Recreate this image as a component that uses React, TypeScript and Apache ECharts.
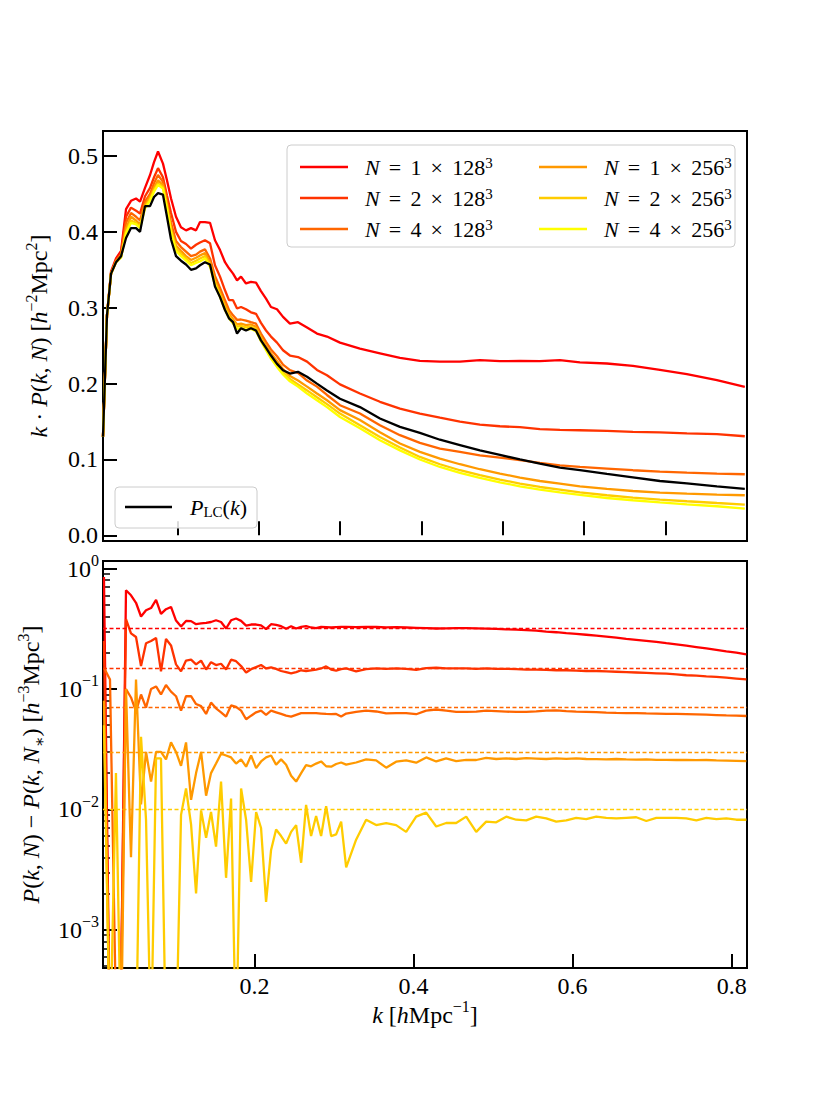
import React, { useEffect, useRef } from "react";
import * as echarts from "echarts";

const FONT = "'Liberation Serif', 'DejaVu Serif', serif";

// ---------- top panel: k * P(k, N) ----------
const kTop = [0.0087, 0.0136, 0.0186, 0.0247, 0.0309, 0.037, 0.0431, 0.0493, 0.0542, 0.0603, 0.0665, 0.0714, 0.0763, 0.0824, 0.0873, 0.0923, 0.0984, 0.1045, 0.1107, 0.1168, 0.123, 0.1279, 0.134, 0.1402, 0.1463, 0.1525, 0.1586, 0.1635, 0.1685, 0.1734, 0.1783, 0.1844, 0.1905, 0.1967, 0.2028, 0.209, 0.2151, 0.2225, 0.2299, 0.2384, 0.2483, 0.2594, 0.2716, 0.2839, 0.2999, 0.3244, 0.349, 0.3736, 0.3981, 0.4227, 0.4473, 0.4718, 0.4964, 0.521, 0.5455, 0.5701, 0.5947, 0.6278, 0.6598, 0.693, 0.7261, 0.763, 0.7973];

const pLC = [0.13, 0.29, 0.345, 0.36, 0.368, 0.392, 0.405, 0.405, 0.40, 0.434, 0.434, 0.446, 0.451, 0.449, 0.42, 0.39, 0.368, 0.362, 0.357, 0.350, 0.352, 0.356, 0.360, 0.357, 0.328, 0.314, 0.297, 0.286, 0.281, 0.266, 0.273, 0.270, 0.273, 0.270, 0.257, 0.247, 0.237, 0.226, 0.2177, 0.2133, 0.2155, 0.209, 0.200, 0.191, 0.180, 0.169, 0.154, 0.143, 0.135, 0.126, 0.119, 0.112, 0.106, 0.100, 0.0946, 0.0893, 0.0858, 0.081, 0.0765, 0.0716, 0.0685, 0.0645, 0.0611];

const kp1x128 = [0.13, 0.29, 0.348, 0.365, 0.375, 0.43, 0.441, 0.444, 0.440, 0.458, 0.475, 0.492, 0.506, 0.490, 0.468, 0.444, 0.420, 0.406, 0.402, 0.405, 0.402, 0.413, 0.413, 0.412, 0.389, 0.376, 0.360, 0.352, 0.345, 0.336, 0.341, 0.332, 0.334, 0.333, 0.322, 0.312, 0.301, 0.298, 0.288, 0.279, 0.281, 0.274, 0.266, 0.262, 0.254, 0.246, 0.240, 0.234, 0.230, 0.229, 0.229, 0.231, 0.2295, 0.230, 0.2295, 0.231, 0.228, 0.2265, 0.2235, 0.218, 0.2124, 0.2045, 0.1957];

const kp2x128 = [0.13, 0.29, 0.346, 0.363, 0.372, 0.42, 0.432, 0.428, 0.424, 0.447, 0.458, 0.472, 0.484, 0.472, 0.448, 0.425, 0.400, 0.388, 0.384, 0.378, 0.383, 0.386, 0.389, 0.385, 0.356, 0.341, 0.323, 0.310, 0.310, 0.299, 0.301, 0.298, 0.294, 0.292, 0.280, 0.270, 0.262, 0.254, 0.244, 0.237, 0.235, 0.229, 0.218, 0.211, 0.199, 0.187, 0.176, 0.167, 0.1605, 0.155, 0.150, 0.146, 0.1438, 0.1425, 0.140, 0.139, 0.1385, 0.1376, 0.1363, 0.1358, 0.1345, 0.1335, 0.1306];

const kp4x128 = [0.13, 0.29, 0.345, 0.362, 0.370, 0.412, 0.425, 0.42, 0.415, 0.440, 0.450, 0.464, 0.475, 0.466, 0.44, 0.412, 0.388, 0.380, 0.374, 0.368, 0.370, 0.374, 0.377, 0.365, 0.342, 0.326, 0.310, 0.297, 0.290, 0.284, 0.2845, 0.283, 0.281, 0.279, 0.266, 0.255, 0.245, 0.236, 0.225, 0.2177, 0.214, 0.204, 0.196, 0.185, 0.1715, 0.1605, 0.145, 0.132, 0.1218, 0.1144, 0.1099, 0.1055, 0.1025, 0.099, 0.0954, 0.0923, 0.0901, 0.088, 0.0858, 0.084, 0.0827, 0.0814, 0.0805];

const kp1x256 = [0.13, 0.29, 0.345, 0.361, 0.368, 0.405, 0.420, 0.415, 0.410, 0.436, 0.446, 0.458, 0.468, 0.462, 0.436, 0.405, 0.382, 0.375, 0.368, 0.363, 0.366, 0.369, 0.372, 0.360, 0.336, 0.320, 0.304, 0.292, 0.285, 0.278, 0.279, 0.277, 0.278, 0.275, 0.262, 0.250, 0.240, 0.230, 0.219, 0.210, 0.204, 0.196, 0.187, 0.178, 0.165, 0.152, 0.136, 0.121, 0.110, 0.101, 0.0937, 0.0871, 0.0814, 0.0761, 0.0716, 0.0682, 0.0646, 0.0611, 0.0584, 0.0563, 0.055, 0.0537, 0.0528];

const kp2x256 = [0.13, 0.29, 0.345, 0.36, 0.367, 0.40, 0.415, 0.412, 0.407, 0.433, 0.443, 0.455, 0.464, 0.459, 0.433, 0.402, 0.378, 0.371, 0.365, 0.359, 0.362, 0.365, 0.368, 0.357, 0.333, 0.317, 0.300, 0.289, 0.282, 0.275, 0.276, 0.274, 0.275, 0.272, 0.259, 0.247, 0.236, 0.226, 0.215, 0.206, 0.199, 0.191, 0.182, 0.173, 0.1605, 0.145, 0.1297, 0.1157, 0.1033, 0.0937, 0.0858, 0.0792, 0.0735, 0.0682, 0.0637, 0.0603, 0.0567, 0.0528, 0.0497, 0.0471, 0.0449, 0.0426, 0.0405];

const kp4x256 = [0.13, 0.29, 0.345, 0.36, 0.366, 0.398, 0.412, 0.41, 0.405, 0.431, 0.441, 0.453, 0.462, 0.457, 0.431, 0.399, 0.375, 0.368, 0.362, 0.356, 0.359, 0.361, 0.365, 0.354, 0.330, 0.314, 0.297, 0.286, 0.279, 0.272, 0.273, 0.271, 0.272, 0.269, 0.256, 0.244, 0.233, 0.222, 0.212, 0.203, 0.196, 0.187, 0.178, 0.169, 0.156, 0.141, 0.1253, 0.112, 0.0999, 0.0901, 0.0822, 0.0756, 0.0699, 0.0646, 0.0603, 0.0567, 0.0532, 0.0492, 0.0462, 0.0435, 0.0409, 0.0383, 0.0352];

// ---------- bottom panel: P(k, N) - P(k, N*) ----------
const kBottom = [0.0109, 0.0185, 0.026, 0.0323, 0.0386, 0.0449, 0.0512, 0.0575, 0.0638, 0.0701, 0.0764, 0.0826, 0.0889, 0.0952, 0.1015, 0.1078, 0.1141, 0.1204, 0.1267, 0.133, 0.1393, 0.1455, 0.1518, 0.1581, 0.1644, 0.1707, 0.177, 0.1833, 0.1896, 0.1959, 0.2022, 0.2084, 0.2147, 0.221, 0.2273, 0.2336, 0.2399, 0.2462, 0.2525, 0.2588, 0.265, 0.2713, 0.2776, 0.2839, 0.2902, 0.2965, 0.3028, 0.3091, 0.3154, 0.3279, 0.3405, 0.3531, 0.3657, 0.3782, 0.3908, 0.4034, 0.416, 0.4286, 0.4411, 0.4537, 0.4663, 0.4789, 0.4914, 0.504, 0.5166, 0.5292, 0.5418, 0.5543, 0.5669, 0.5795, 0.5921, 0.6046, 0.6172, 0.6298, 0.6424, 0.655, 0.6675, 0.6801, 0.6927, 0.7053, 0.7179, 0.7304, 0.743, 0.7556, 0.7682, 0.7808, 0.7933, 0.8059, 0.8185];

const diff1x128 = [0.85, 0.0001, 0.0001, 0.0003, 0.66, 0.60, 0.52, 0.40, 0.45, 0.47, 0.55, 0.42, 0.46, 0.48, 0.37, 0.33, 0.367, 0.366, 0.345, 0.35, 0.354, 0.36, 0.372, 0.36, 0.318, 0.372, 0.385, 0.368, 0.336, 0.343, 0.343, 0.338, 0.314, 0.345, 0.34, 0.332, 0.316, 0.332, 0.318, 0.328, 0.332, 0.324, 0.32, 0.328, 0.326, 0.324, 0.326, 0.328, 0.328, 0.326, 0.328, 0.327, 0.325, 0.326, 0.324, 0.322, 0.320, 0.318, 0.319, 0.320, 0.320, 0.319, 0.317, 0.315, 0.313, 0.311, 0.308, 0.305, 0.300, 0.296, 0.291, 0.287, 0.282, 0.277, 0.272, 0.267, 0.261, 0.256, 0.251, 0.246, 0.240, 0.235, 0.229, 0.223, 0.217, 0.211, 0.205, 0.200, 0.194];

const diff2x128 = [0.25, 0.0001, 0.0001, 0.0003, 0.38, 0.29, 0.27, 0.155, 0.24, 0.25, 0.265, 0.14, 0.26, 0.23, 0.16, 0.14, 0.172, 0.175, 0.16, 0.172, 0.145, 0.167, 0.158, 0.162, 0.145, 0.175, 0.17, 0.155, 0.137, 0.146, 0.152, 0.158, 0.148, 0.151, 0.147, 0.141, 0.138, 0.135, 0.138, 0.143, 0.141, 0.143, 0.145, 0.148, 0.154, 0.145, 0.142, 0.146, 0.148, 0.140, 0.146, 0.148, 0.147, 0.148, 0.147, 0.144, 0.149, 0.150, 0.148, 0.148, 0.148, 0.147, 0.148, 0.147, 0.147, 0.146, 0.145, 0.145, 0.144, 0.143, 0.143, 0.142, 0.141, 0.141, 0.140, 0.139, 0.138, 0.137, 0.136, 0.135, 0.134, 0.132, 0.130, 0.129, 0.127, 0.126, 0.124, 0.122, 0.120];

const diff4x128 = [0.15, 0.12, 0.0002, 0.0003, 0.10, 0.085, 0.065, 0.09, 0.07, 0.10, 0.105, 0.09, 0.108, 0.095, 0.087, 0.066, 0.087, 0.087, 0.075, 0.072, 0.062, 0.077, 0.069, 0.064, 0.059, 0.073, 0.071, 0.066, 0.056, 0.06, 0.064, 0.066, 0.061, 0.066, 0.064, 0.062, 0.06, 0.059, 0.061, 0.063, 0.063, 0.063, 0.063, 0.0625, 0.062, 0.0617, 0.062, 0.059, 0.0625, 0.0645, 0.066, 0.065, 0.0626, 0.063, 0.063, 0.0617, 0.066, 0.0675, 0.066, 0.0645, 0.0645, 0.0648, 0.066, 0.0655, 0.0648, 0.0645, 0.0645, 0.0652, 0.066, 0.0663, 0.0655, 0.0648, 0.0645, 0.0642, 0.0635, 0.0632, 0.063, 0.063, 0.0627, 0.0625, 0.0622, 0.062, 0.0617, 0.0614, 0.0611, 0.0607, 0.0603, 0.06, 0.0596];

const diff1x256 = [0.08, 0.0001, 0.0002, 0.0001, 0.10, 0.004, 0.12, 0.011, 0.03, 0.017, 0.03, 0.03, 0.026, 0.036, 0.03, 0.023, 0.036, 0.012, 0.02, 0.03, 0.013, 0.02, 0.024, 0.029, 0.028, 0.027, 0.024, 0.026, 0.0226, 0.028, 0.022, 0.025, 0.027, 0.028, 0.0235, 0.026, 0.0235, 0.019, 0.017, 0.02, 0.0233, 0.0228, 0.024, 0.025, 0.0228, 0.0226, 0.0238, 0.0245, 0.0235, 0.0245, 0.026, 0.0255, 0.0222, 0.0249, 0.0255, 0.0244, 0.027, 0.025, 0.0265, 0.0252, 0.0258, 0.0257, 0.0268, 0.0262, 0.0265, 0.0262, 0.0266, 0.0264, 0.0262, 0.0265, 0.0263, 0.0265, 0.0262, 0.0261, 0.026, 0.0262, 0.026, 0.0259, 0.026, 0.0258, 0.0258, 0.0257, 0.0258, 0.0256, 0.0257, 0.0255, 0.0254, 0.0253, 0.0252];

const diff2x256 = [0.05, 0.0001, 0.02, 0.0001, 0.0001, 0.0001, 0.0001, 0.04, 0.0082, 0.0001, 0.0265, 0.0265, 0.0001, 0.0001, 0.0001, 0.009, 0.0149, 0.0075, 0.002, 0.0098, 0.0058, 0.0095, 0.0049, 0.017, 0.0027, 0.0123, 0.0001, 0.0149, 0.0082, 0.0025, 0.0095, 0.007, 0.0017, 0.0046, 0.0068, 0.006, 0.0052, 0.0065, 0.0074, 0.0036, 0.0109, 0.006, 0.0088, 0.006, 0.0106, 0.006, 0.0062, 0.0079, 0.0033, 0.0056, 0.0082, 0.0074, 0.0077, 0.0074, 0.0065, 0.0087, 0.0094, 0.0072, 0.0077, 0.0077, 0.0087, 0.0065, 0.0079, 0.0078, 0.0087, 0.0082, 0.0081, 0.0087, 0.0084, 0.0079, 0.0081, 0.0085, 0.0083, 0.0087, 0.0085, 0.0084, 0.0085, 0.0086, 0.008, 0.0085, 0.0085, 0.0085, 0.0084, 0.0081, 0.0085, 0.0083, 0.0084, 0.0082, 0.0082];

// expected shot-noise differences (dashed lines)
const shotNoise = [0.318, 0.154, 0.072, 0.0308, 0.0103];

const runLabels = ["1 × 128", "2 × 128", "4 × 128", "1 × 256", "2 × 256", "4 × 256"];
const runColors = ["#ff0000", "#ff3300", "#ff6600", "#ff9900", "#ffcc00", "#ffff00"];

const topXTicks = [0.1, 0.2, 0.3, 0.4, 0.5, 0.6, 0.7, 0.8];
const topYTicks = [0.0, 0.1, 0.2, 0.3, 0.4, 0.5];
const bottomXTicks = [0.2, 0.4, 0.6, 0.8];
const logMajor = [0.001, 0.01, 0.1, 1];
const logMinorMantissa = [2, 3, 4, 5, 6, 7, 8, 9];
const logDecades = [0.0001, 0.001, 0.01, 0.1];

const TOP_X = { min: 0.0087, max: 0.8 };
const TOP_Y = { min: -0.0075, max: 0.533 };
const BOT_X = { min: 0.0097, max: 0.8193 };
const BOT_Y = { min: 0.000481, max: 1.156 };

const pair = (ks: number[], vs: number[]) => ks.map((k, i) => [k, vs[i]]);

const SP = "\u2004\u200A"; // math-like spacing around = and ×

const rich = {
  r: { fontFamily: FONT, fontSize: 24, color: "#000", lineHeight: 32 },
  i: { fontFamily: FONT, fontSize: 24, fontStyle: "italic", color: "#000", lineHeight: 32 },
  s: { fontFamily: FONT, fontSize: 16, color: "#000", verticalAlign: "top", lineHeight: 17 },
  u: { fontFamily: FONT, fontSize: 16, color: "#000", verticalAlign: "bottom", lineHeight: 17 },
};
const legendRich = {
  r: { fontFamily: FONT, fontSize: 22, color: "#000", lineHeight: 24 },
  i: { fontFamily: FONT, fontSize: 22, fontStyle: "italic", color: "#000", lineHeight: 24 },
  s: { fontFamily: FONT, fontSize: 15, color: "#000", verticalAlign: "top", lineHeight: 13 },
  u: { fontFamily: FONT, fontSize: 15, color: "#000", verticalAlign: "bottom", lineHeight: 15 },
};

const tickStyle = { color: "#000", width: 2 };
const labelStyle = { fontFamily: FONT, fontSize: 24, color: "#000" };

function buildOption() {
  const names = runLabels.map((l) => `N = ${l}^3`);
  const topSeriesData = [kp1x128, kp2x128, kp4x128, kp1x256, kp2x256, kp4x256];
  const botSeriesData = [diff1x128, diff2x128, diff4x128, diff1x256, diff2x256];
  const logMinor: number[] = [];
  logDecades.forEach((d) => logMinorMantissa.forEach((m) => logMinor.push(+(m * d).toPrecision(3))));
  const supExp = (v: number) => {
    const e = Math.round(Math.log10(v));
    return e < 0 ? "−" + -e : String(e);
  };

  const series: any[] = [];
  topSeriesData.forEach((vals, i) => {
    series.push({
      name: names[i],
      type: "line",
      xAxisIndex: 0,
      yAxisIndex: 0,
      data: pair(kTop, vals),
      showSymbol: false,
      symbol: "none",
      clip: true,
      lineStyle: { color: runColors[i], width: 2.3 },
      itemStyle: { color: runColors[i] },
      z: 2 + i,
    });
  });
  series.push({
    name: "P_LC",
    type: "line",
    xAxisIndex: 0,
    yAxisIndex: 0,
    data: pair(kTop, pLC),
    showSymbol: false,
    symbol: "none",
    clip: true,
    lineStyle: { color: "#000", width: 2.3 },
    itemStyle: { color: "#000" },
    z: 10,
  });
  botSeriesData.forEach((vals, i) => {
    series.push({
      name: "diff " + runLabels[i],
      type: "line",
      xAxisIndex: 1,
      yAxisIndex: 1,
      data: pair(kBottom, vals),
      showSymbol: false,
      symbol: "none",
      clip: true,
      lineStyle: { color: runColors[i], width: 2.3 },
      itemStyle: { color: runColors[i] },
      z: 2 + i,
      markLine: {
        silent: true,
        symbol: ["none", "none"],
        label: { show: false },
        itemStyle: { color: runColors[i] },
        lineStyle: { color: runColors[i], width: 1.3, type: [4, 2.5], opacity: 1 },
        data: [{ yAxis: shotNoise[i], lineStyle: { color: runColors[i] } }],
      },
    });
  });

  const legendFmt = (name: string) => {
    const parts = name.slice(4, name.length - 2).split(" × ");
    return `{i|N}{r|${SP}=${SP}${parts[0]}${SP}×${SP}${parts[1]}}{s|3}`;
  };
  const legendBase = {
    orient: "vertical",
    icon: "rect",
    itemWidth: 48,
    itemHeight: 2.5,
    itemGap: 8,
    selectedMode: false,
    formatter: legendFmt,
    textStyle: { fontFamily: FONT, fontSize: 22, color: "#000", padding: [0, 0, 0, 12], rich: legendRich },
  };

  return {
    animation: false,
    backgroundColor: "#fff",
    grid: [
      { left: 103, top: 131, width: 644, height: 410, show: true, borderColor: "#000", borderWidth: 2, backgroundColor: "transparent" },
      { left: 103, top: 561, width: 644, height: 407, show: true, borderColor: "#000", borderWidth: 2, backgroundColor: "transparent" },
    ],
    xAxis: [
      {
        type: "value",
        gridIndex: 0,
        position: "bottom",
        min: TOP_X.min,
        max: TOP_X.max,
        axisLine: { show: false },
        splitLine: { show: false },
        axisLabel: { show: false },
        axisTick: { show: true, inside: true, length: 14, lineStyle: tickStyle, customValues: topXTicks },
      },
      {
        type: "value",
        gridIndex: 1,
        position: "bottom",
        min: BOT_X.min,
        max: BOT_X.max,
        axisLine: { show: false },
        splitLine: { show: false },
        axisLabel: { ...labelStyle, margin: 6, customValues: bottomXTicks, formatter: (v: number) => v.toFixed(1) },
        axisTick: { show: true, inside: true, length: 14, lineStyle: tickStyle, customValues: bottomXTicks },
        name: "{i|k}{r| [}{i|h}{r|Mpc}{s|−1}{r|]}",
        nameLocation: "middle",
        nameGap: 30,
        nameTextStyle: { rich },
      },
    ],
    yAxis: [
      {
        type: "value",
        gridIndex: 0,
        position: "left",
        min: TOP_Y.min,
        max: TOP_Y.max,
        axisLine: { show: false },
        splitLine: { show: false },
        axisLabel: { ...labelStyle, margin: 5, customValues: topYTicks, formatter: (v: number) => v.toFixed(1) },
        axisTick: { show: true, inside: true, length: 14, lineStyle: tickStyle, customValues: topYTicks },
        name: "{i|k}{r| · }{i|P}{r|(}{i|k}{r|, }{i|N}{r|) [}{i|h}{s|−2}{r|Mpc}{s|2}{r|]}",
        nameLocation: "middle",
        nameRotate: 90,
        nameGap: 48,
        nameTextStyle: { rich },
      },
      {
        type: "log",
        gridIndex: 1,
        position: "left",
        min: BOT_Y.min,
        max: BOT_Y.max,
        axisLine: { show: false },
        splitLine: { show: false },
        axisLabel: {
          ...labelStyle,
          margin: 4,
          customValues: logMajor,
          formatter: (v: number) => `{r|10}{s|${supExp(v)}}`,
          rich,
        },
        axisTick: { show: true, inside: true, length: 14, lineStyle: tickStyle, customValues: logMajor },
        name: "{i|P}{r|(}{i|k}{r|, }{i|N}{r|) − }{i|P}{r|(}{i|k}{r|, }{i|N}{u|∗}{r|) [}{i|h}{s|−3}{r|Mpc}{s|3}{r|]}",
        nameLocation: "middle",
        nameRotate: 90,
        nameGap: 48,
        nameTextStyle: { rich },
      },
      {
        type: "log",
        gridIndex: 1,
        position: "left",
        offset: 0,
        min: BOT_Y.min,
        max: BOT_Y.max,
        axisLine: { show: false },
        splitLine: { show: false },
        axisLabel: { show: false },
        axisTick: { show: true, inside: true, length: 7, lineStyle: { color: "#000", width: 1.5 }, customValues: logMinor },
      },
    ],
    legend: [
      { ...legendBase, left: 295, top: 150, data: names.slice(0, 3) },
      { ...legendBase, left: 534, top: 150, data: names.slice(3) },
      {
        orient: "vertical",
        left: 115,
        top: 487,
        icon: "rect",
        itemWidth: 47,
        itemHeight: 2.5,
        selectedMode: false,
        padding: [9, 10, 9, 10],
        borderColor: "#cccccc",
        borderWidth: 1,
        borderRadius: 4,
        backgroundColor: "rgba(255,255,255,0.85)",
        data: ["P_LC"],
        formatter: () => "{i|P}{u|LC}{r|(}{i|k}{r|)}",
        textStyle: { fontFamily: FONT, fontSize: 22, color: "#000", padding: [0, 0, 0, 13], rich: legendRich },
      },
    ],
    graphic: [
      {
        type: "rect",
        z: 0,
        silent: true,
        shape: { x: 287, y: 145, width: 448, height: 102, r: 4 },
        style: { fill: "rgba(255,255,255,0.85)", stroke: "#cccccc", lineWidth: 1 },
      },
    ],
    series,
  };
}

export default function App() {
  const ref = useRef<HTMLDivElement>(null);
  useEffect(() => {
    if (!ref.current) return;
    const chart = echarts.init(ref.current, null, { renderer: "svg" });
    chart.setOption(buildOption() as any);
    return () => chart.dispose();
  }, []);
  return (
    <div
      ref={ref}
      style={{ position: "absolute", left: 0, top: 0, width: 830, height: 1107, background: "#fff" }}
    />
  );
}
